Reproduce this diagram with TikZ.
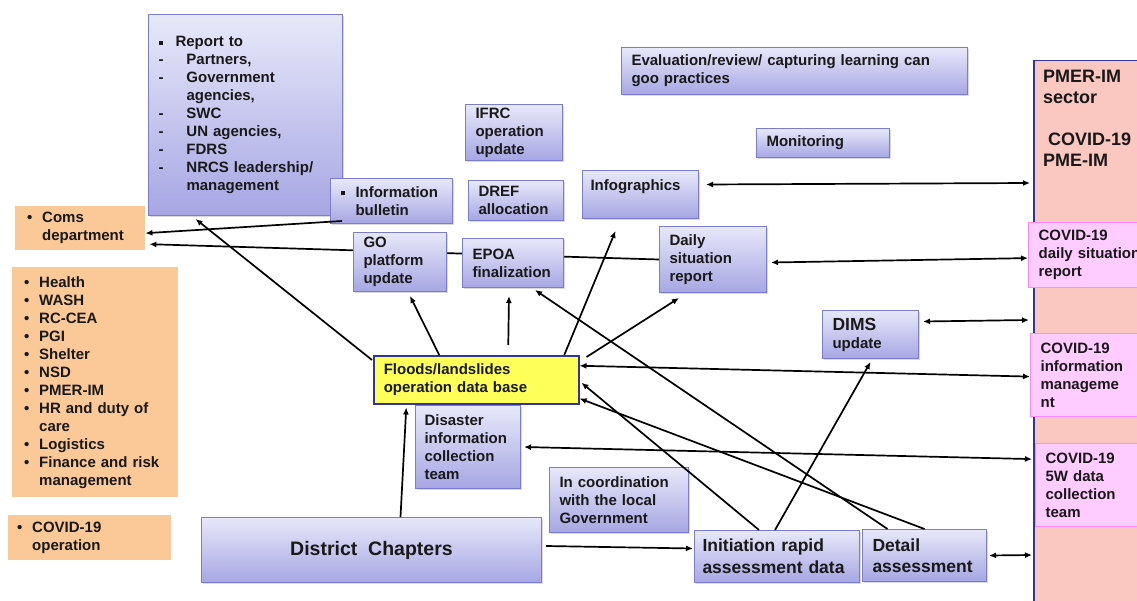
\documentclass[tikz,border=0pt]{standalone}
\usepackage{fontspec}
\setmainfont{Liberation Sans}
\usetikzlibrary{arrows.meta,shadows,backgrounds}

\definecolor{lavtop}{RGB}{232,232,250}
\definecolor{lavbot}{RGB}{166,166,228}
\definecolor{lavline}{RGB}{124,124,206}
\definecolor{peach}{RGB}{251,201,152}
\definecolor{salmon}{RGB}{250,199,193}
\definecolor{navy}{RGB}{52,52,160}
\definecolor{orchid}{RGB}{255,204,255}
\definecolor{orchidline}{RGB}{255,136,255}
\definecolor{dbyellow}{RGB}{255,255,90}

\newcommand{\sqb}[1][15pt]{\makebox[#1][l]{\rule[2pt]{4pt}{4pt}}}
\newcommand{\rb}{\makebox[15pt][l]{\textbullet}}
\newcommand{\dsh}{\makebox[28pt][l]{-}}
\newcommand{\ind}[1]{\hspace*{#1}}
\hyphenpenalty=10000

\tikzset{
	box/.style={anchor=north west, align=left, inner xsep=10pt, inner ysep=0pt, text=black!90, font=\bfseries\fontsize{15}{18}\selectfont},
	lav/.style={box, draw=lavline, line width=1pt, top color=lavtop, bottom color=lavbot, drop shadow={shadow xshift=1.5pt, shadow yshift=-1.5pt, opacity=0.3}},
	peachbox/.style={box, fill=peach, inner xsep=12pt},
	pinkbox/.style={box, draw=orchidline, line width=1.2pt, fill=orchid},
	link/.style={line width=1.7pt, -{Latex[length=7pt,width=6pt]}},
	twoway/.style={line width=1.7pt, {Latex[length=7pt,width=6pt]}-{Latex[length=7pt,width=6pt]}}
}

\begin{document}
\begin{tikzpicture}[x=1pt,y=-1pt]
		%%%%% frame %%%%%
		\useasboundingbox (0,0) rectangle (1137,601);
		
		% left side
		\node[peachbox, text width=106pt, minimum height=44pt] (coms) at (15,206) {\rb Coms\\\ind{15pt}department};
		\node[peachbox, text width=142pt, minimum height=230pt] (units) at (12,267) {\rb Health\\\rb WASH\\\rb RC-CEA\\\rb PGI\\\rb Shelter\\\rb NSD\\\rb PMER-IM\\\rb HR and duty of\\\ind{15pt}care\\\rb Logistics\\\rb Finance and risk\\\ind{15pt}management};
		\node[peachbox, inner xsep=9pt, text width=145pt, minimum height=45pt] (covop) at (8,515) {\rb COVID-19\\\ind{15pt}operation};
		
		\node[lav, text width=174pt, minimum height=201pt] (report) at (148,14) {\sqb[17pt]Report to\\\dsh Partners,\\\dsh Government\\\ind{28pt}agencies,\\\dsh SWC\\\dsh UN agencies,\\\dsh FDRS\\\dsh NRCS leadership/\\\ind{28pt}management};
		\node[lav, text width=102pt, minimum height=45pt] (bull) at (330,178) {\sqb Information\\\ind{15pt}bulletin};
		
		% middle
		\node[lav, text width=77pt, minimum height=56pt] (ifrc) at (465,104) {IFRC\\operation\\update};
		\node[lav, text width=75pt, minimum height=40pt] (dref) at (468,180) {DREF\\allocation};
		\node[lav, inner xsep=8pt, text width=100pt, minimum height=48pt, text height=20pt, text depth=28pt] (infog) at (582,170) {Infographics};
		\node[lav, text width=326pt, minimum height=47pt] (eval) at (621,47) {Evaluation/review/ capturing learning can\\goo practices};
		\node[lav, text width=113pt, minimum height=29pt] (monit) at (756,128) {Monitoring};
		\node[lav, text width=73pt, minimum height=59pt] (go) at (353,232) {GO\\platform\\update};
		\node[lav, text width=81pt, minimum height=49pt] (epoa) at (462,238) {EPOA\\finalization};
		\node[lav, text width=87pt, minimum height=66pt] (daily) at (659,226) {Daily\\situation\\report};
		\node[lav, text width=76pt, minimum height=48pt] (dims) at (822,310) {{\fontsize{17.5}{20}\selectfont DIMS}\\update};
		
		\node[box, fill=dbyellow, draw=navy, line width=1.5pt, text width=185pt, minimum height=48pt] (db) at (373,355) {Floods/landslides\\operation data base};
		\node[lav, inner xsep=9pt, text width=87pt, minimum height=83pt] (dis) at (415,405) {Disaster\\information\\collection\\team};
		\node[lav, text width=119pt, minimum height=65pt] (coord) at (549,467) {In coordination\\with the local\\Government};
		
		% bottom row
		\node[lav, align=center, minimum width=340pt, minimum height=65pt, font=\bfseries\fontsize{19.5}{23}\selectfont] (district) at (201,517) {District~~Chapters};
		\node[lav, inner xsep=8pt, text width=149pt, minimum height=52pt, font=\bfseries\fontsize{17.5}{22}\selectfont] (init) at (694,530) {Initiation rapid\\assessment data};
		\node[lav, text width=104pt, minimum height=52pt, font=\bfseries\fontsize{17.5}{21}\selectfont] (detail) at (862,529) {Detail\\assessment};
		
		% right column
		\node[anchor=north west, fill=salmon, draw=navy, line width=1.5pt, minimum width=140pt, minimum height=560pt,
			label={[anchor=north west, xshift=10pt, yshift=-10pt, inner sep=0pt, align=left, text=black!90, font=\bfseries\fontsize{18}{21}\selectfont]north west:{PMER-IM\\sector\\[21pt]\ind{5pt}COVID-19\\PME-IM}}] (pmer) at (1033,60) {};
		\node[pinkbox, text width=112pt, minimum height=65pt] (pday) at (1028,222) {COVID-19\\daily situation\\report};
		\node[pinkbox, text width=112pt, minimum height=83pt] (pinfo) at (1030,333) {COVID-19\\information\\manageme\\nt};
		\node[pinkbox, text width=112pt, minimum height=83pt] (p5w) at (1035,443) {COVID-19\\5W data\\collection\\team};
		
		% links
		\begin{pgfonlayer}{background}
			\draw[link] (daily.west) -- ([xshift=4pt,yshift=-16pt]coms.east);
		\end{pgfonlayer}
		\draw[link] ([xshift=12pt,yshift=3pt]bull.south west) -- ([yshift=-5pt]coms.east);
		
		\draw[twoway] ([xshift=4pt,yshift=-3pt]daily.east) -- ([yshift=-3pt]pday.west);
		\draw[twoway] ([xshift=7pt,yshift=10pt]infog.east) -- ([xshift=-3pt,yshift=-123pt]pmer.north west);
		\draw[twoway] ([xshift=4pt,yshift=13pt]dims.east) -- ([xshift=-4pt,yshift=-260pt]pmer.north west);
		\draw[twoway] ([yshift=14pt]db.east) -- ([yshift=-1.5pt]pinfo.west);
		\draw[twoway] ([xshift=3pt]dis.east) -- ([xshift=-3pt,yshift=26pt]p5w.west);
		\draw[twoway] ([xshift=2pt]detail.east) -- ([xshift=-1pt,yshift=-495pt]pmer.north west);
		
		\draw[link] ([xshift=4pt,yshift=4pt]district.east) -- ([xshift=-1pt,yshift=8pt]init.west);
		\draw[link] ([xshift=29pt]district.north) -- ([xshift=-70pt,yshift=-3pt]db.south);
		
		\draw[link] ([xshift=-1pt,yshift=-5pt]db.north west) -- ([xshift=-50pt,yshift=-3pt]report.south);
		\draw[link] ([xshift=-37pt]db.north) -- ([xshift=10pt,yshift=-4pt]go.south);
		\draw[link] ([xshift=32pt,yshift=10pt]db.north) -- ([xshift=-4pt,yshift=-8pt]epoa.south);
		\draw[link] ([xshift=88pt]db.north) -- ([xshift=-25pt,yshift=-12pt]infog.south);
		\draw[link] ([xshift=7pt,yshift=-2pt]db.north east) -- ([xshift=-34pt,yshift=-5pt]daily.south);
		
		\draw[link] ([xshift=-2pt]init.north) -- ([yshift=-3pt]dims.south);
		\draw[link] ([xshift=-18pt]init.north) -- ([xshift=2pt,yshift=-3pt]db.east);
		\draw[link] (detail.north) -- ([yshift=6pt]db.south east);
		\draw[link] ([xshift=-37pt]detail.north) -- ([xshift=22pt,yshift=-2pt]epoa.south);
		
	\end{tikzpicture}
\end{document}
